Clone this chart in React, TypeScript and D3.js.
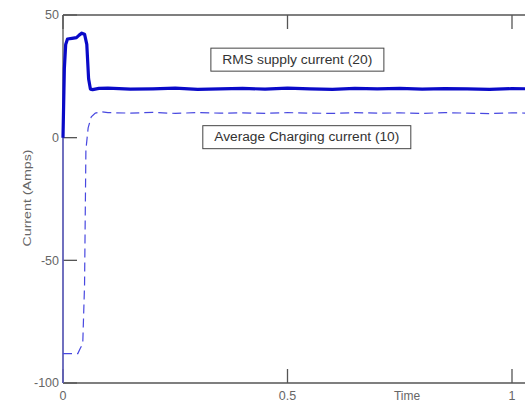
import { useEffect } from "react";
import * as d3 from "d3";

const W = 525;
const H = 405;
const MARGIN = { top: 15, bottom: 22, left: 63 };

// RMS supply current (solid, thick)
const rmsTime = [0, 0.003, 0.006, 0.01, 0.02, 0.03, 0.036, 0.042, 0.048, 0.053, 0.057, 0.061, 0.066, 0.08, 0.1, 0.15, 0.2, 0.25, 0.3, 0.35, 0.4, 0.45, 0.5, 0.55, 0.6, 0.65, 0.7, 0.75, 0.8, 0.85, 0.9, 0.95, 1.0, 1.05];
const rmsValue = [0, 28, 38, 40.2, 40.5, 40.8, 41.8, 42.6, 42.2, 38, 24, 19.8, 19.6, 20.1, 20.2, 19.8, 19.9, 20.2, 19.7, 19.9, 20.1, 19.8, 20.2, 19.9, 19.7, 20.1, 19.9, 20.1, 19.8, 20, 19.9, 19.7, 20, 19.9];

// Average charging current (dashed)
const avgTime = [0, 0.033, 0.038, 0.044, 0.048, 0.051, 0.056, 0.063, 0.072, 0.085, 0.1, 0.15, 0.2, 0.25, 0.3, 0.35, 0.4, 0.45, 0.5, 0.55, 0.6, 0.65, 0.7, 0.75, 0.8, 0.85, 0.9, 0.95, 1.0, 1.05];
const avgValue = [-88, -88, -86, -84, -60, -5, 4, 8.5, 10, 10.6, 10.2, 10, 10.3, 9.9, 10.2, 10, 10.1, 9.9, 10.2, 10, 9.9, 10.2, 10, 10.1, 9.9, 10.2, 10, 9.8, 10.1, 10];

// startup transient along the left edge (thin)
const startTime = [0, 0];
const startValue = [0, -100];

const xTicks = [0, 0.5, 1];
const xTickLabels = ["0", "0.5", "1"];
const yTicks = [-100, -50, 0, 50];
const yTickLabels = ["-100", "-50", "0", "50"];

const X_MAX = 1.04;

const labels = [
  { text: "RMS supply current (20)", t: 0.522, v: 31.8, w: 173, tw: 150 },
  { text: "Average Charging  current (10)", t: 0.543, v: 0.2, w: 208, tw: 185 },
];

export default function App() {
  useEffect(() => {
    document.body.style.margin = "0";
  }, []);

  const x = d3.scaleLinear().domain([0, 1]).range([MARGIN.left, 512]);
  const y = d3
    .scaleLinear()
    .domain([-100, 50])
    .range([H - MARGIN.bottom, MARGIN.top]);

  const line = d3
    .line<[number, number]>()
    .x((d) => x(d[0]))
    .y((d) => y(d[1]));

  const rms = rmsTime.map((t, i) => [t, rmsValue[i]] as [number, number]);
  const avg = avgTime.map((t, i) => [t, avgValue[i]] as [number, number]);
  const start = startTime.map((t, i) => [t, startValue[i]] as [number, number]);

  const left = x(0);
  const right = x(X_MAX);
  const top = y(50);
  const bottom = y(-100);
  const TICK = 14;
  const axisColor = "#555";
  const textColor = "#666";
  const font = "Arial, 'Liberation Sans', sans-serif";

  return (
    <svg
      width={W}
      height={H}
      style={{ position: "absolute", left: 0, top: 0, background: "#fff" }}
      fontFamily={font}
    >
      {/* frame */}
      <line x1={left} x2={right} y1={top} y2={top} stroke={axisColor} strokeWidth={1.3} />
      <line x1={left} x2={right} y1={bottom} y2={bottom} stroke={axisColor} strokeWidth={1.3} />
      <line x1={left} x2={left} y1={top} y2={bottom} stroke={axisColor} strokeWidth={1.3} />

      {/* y ticks */}
      {yTicks.map((v, i) => (
        <g key={"y" + v}>
          <line x1={left} x2={left + TICK} y1={y(v)} y2={y(v)} stroke={axisColor} strokeWidth={1.3} />
          <text x={left - 4} y={y(v)} dy="0.35em" textAnchor="end" fontSize={12.5} fill={textColor}>
            {yTickLabels[i]}
          </text>
        </g>
      ))}

      {/* x ticks */}
      {xTicks.map((t, i) => (
        <g key={"x" + t}>
          <line x1={x(t)} x2={x(t)} y1={bottom} y2={bottom - TICK} stroke={axisColor} strokeWidth={1.3} />
          <line x1={x(t)} x2={x(t)} y1={top} y2={top + TICK} stroke={axisColor} strokeWidth={1.3} />
          <text x={x(t)} y={bottom + 17} textAnchor="middle" fontSize={12.5} fill={textColor}>
            {xTickLabels[i]}
          </text>
        </g>
      ))}

      <text x={407} y={bottom + 17} textAnchor="middle" fontSize={12} fill={textColor}>
        Time
      </text>
      <text
        transform="translate(31, 198) rotate(-90)"
        textAnchor="middle"
        fontSize={11}
        fill={textColor}
        textLength={97}
        lengthAdjust="spacingAndGlyphs"
      >
        Current (Amps)
      </text>

      {/* series */}
      <path d={line(start) ?? ""} fill="none" stroke="#6060d8" strokeWidth={1.3} />
      <path
        d={line(avg) ?? ""}
        fill="none"
        stroke="#4848e0"
        strokeWidth={1.2}
        strokeDasharray="9,5"
      />
      <path
        d={line(rms) ?? ""}
        fill="none"
        stroke="#0a0ac8"
        strokeWidth={3.2}
        strokeLinejoin="round"
      />

      {/* annotation boxes */}
      {labels.map((l) => {
        const cx = x(l.t);
        const cy = y(l.v);
        return (
          <g key={l.text}>
            <rect
              x={cx - l.w / 2}
              y={cy - 11.5}
              width={l.w}
              height={23}
              fill="#fff"
              stroke="#444"
              strokeWidth={1}
            />
            <text
              x={cx}
              y={cy}
              dy="0.36em"
              textAnchor="middle"
              fontSize={12}
              fill="#333"
              textLength={l.tw}
              lengthAdjust="spacingAndGlyphs"
            >
              {l.text}
            </text>
          </g>
        );
      })}
    </svg>
  );
}
